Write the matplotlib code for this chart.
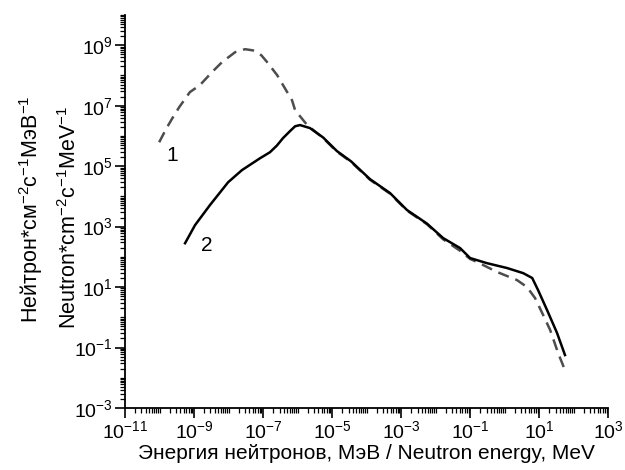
import numpy as np
import matplotlib
matplotlib.use("Agg")
import matplotlib.pyplot as plt
from matplotlib.ticker import FixedLocator, LogFormatterSciNotation, NullFormatter

plt.rcParams['font.family'] = ['Liberation Sans', 'DejaVu Sans']
plt.rcParams['mathtext.fontset'] = 'custom'
plt.rcParams['mathtext.rm'] = 'Liberation Sans'
plt.rcParams['mathtext.it'] = 'Liberation Sans:italic'
plt.rcParams['mathtext.bf'] = 'Liberation Sans:bold'

# curve 1 (dashed): log10 energy, log10 flux
log_e1 = [-10.01, -9.80, -9.61, -9.43, -9.12, -8.83, -8.48, -8.19, -7.81, -7.52, -7.29,
          -7.05, -6.88, -6.59, -6.42, -6.16, -6.07, -5.72, -5.26, -4.86, -4.45, -3.90,
          -3.32, -2.83, -2.25, -1.78, -1.29, -1.0, -0.80, -0.22, 0.36, 0.65,
          0.88, 1.09, 1.32, 1.55, 1.75]
log_f1 = [5.79, 6.25, 6.62, 6.95, 7.45, 7.68, 8.11, 8.44, 8.77, 8.87, 8.83,
          8.67, 8.44, 8.01, 7.68, 7.18, 6.85, 6.36, 5.93, 5.48, 5.14, 4.55,
          4.09, 3.53, 3.08, 2.58, 2.20, 1.93, 1.83, 1.50, 1.23, 1.0,
          0.64, 0.14, -0.42, -1.18, -1.75]

# curve 2 (solid)
log_e2 = [-9.26, -8.97, -8.54, -8.01, -7.61, -7.09, -6.80, -6.60, -6.42, -6.20, -6.07,
          -5.93, -5.64, -5.26, -4.86, -4.45, -3.90, -3.32, -2.83, -2.25, -1.78, -1.29,
          -1.0, -0.51, 0.07, 0.54, 0.80, 0.97, 1.23, 1.52, 1.75]
log_f2 = [2.45, 3.05, 3.71, 4.47, 4.87, 5.26, 5.46, 5.68, 5.93, 6.18, 6.32,
          6.36, 6.26, 5.95, 5.50, 5.16, 4.57, 4.11, 3.55, 3.10, 2.62, 2.29,
          1.96, 1.79, 1.63, 1.46, 1.30, 0.90, 0.24, -0.52, -1.25]

x_major = [1e-11, 1e-9, 1e-7, 1e-5, 1e-3, 1e-1, 1e1, 1e3]
y_major = [1e-3, 1e-1, 1e1, 1e3, 1e5, 1e7, 1e9]

fig = plt.figure(figsize=(6.25, 4.7), dpi=100)
ax = fig.add_axes([0.2, 0.132, 0.773, 0.836])

ax.plot(10.0 ** np.array(log_e1), 10.0 ** np.array(log_f1), color='#4d4d4d',
        lw=1.8, dashes=(4.5, 2.8), solid_joinstyle='round')
ax.plot(10.0 ** np.array(log_e2), 10.0 ** np.array(log_f2), color='black', lw=1.8,
        solid_joinstyle='round')

ax.set_xscale('log')
ax.set_yscale('log')
ax.set_xlim(1e-11, 1e3)
ax.set_ylim(1e-3, 1e10)

ax.xaxis.set_major_locator(FixedLocator(x_major))
ax.yaxis.set_major_locator(FixedLocator(y_major))
minor = [m * 10.0 ** d for d in range(-12, 11) for m in range(1, 10)]
ax.xaxis.set_minor_locator(FixedLocator([v for v in minor if v not in x_major]))
ax.yaxis.set_minor_locator(FixedLocator([v for v in minor if v not in y_major]))
ax.xaxis.set_major_formatter(LogFormatterSciNotation())
ax.yaxis.set_major_formatter(LogFormatterSciNotation())
ax.xaxis.set_minor_formatter(NullFormatter())
ax.yaxis.set_minor_formatter(NullFormatter())

ax.tick_params(which='major', direction='out', length=7, width=1.2, labelsize=14, pad=2)
ax.tick_params(which='minor', direction='out', length=3.5, width=0.9)

for s in ['top', 'right']:
    ax.spines[s].set_visible(False)
for s in ['left', 'bottom']:
    ax.spines[s].set_linewidth(1.3)

ax.text(10 ** -9.64, 10 ** 5.36, '1', fontsize=15, ha='center', va='center')
ax.text(10 ** -8.62, 10 ** 2.36, '2', fontsize=15, ha='center', va='center')

ax.set_xlabel('Энергия нейтронов, МэВ / Neutron energy, MeV', fontsize=15, labelpad=1)
fig.text(0.050, 0.555, 'Нейтрон*см$^{-2}$с$^{-1}$МэВ$^{-1}$', rotation=90,
         ha='center', va='center', fontsize=15.5)
fig.text(0.112, 0.538, 'Neutron*cm$^{-2}$c$^{-1}$MeV$^{-1}$', rotation=90,
         ha='center', va='center', fontsize=15.5)

fig.savefig('out.png', dpi=100)
